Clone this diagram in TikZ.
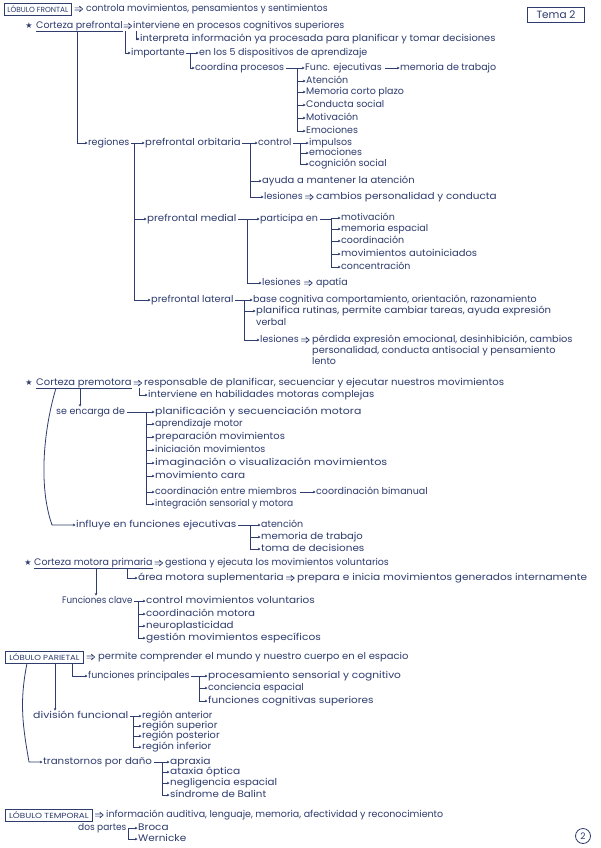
\documentclass[tikz,border=0pt]{standalone}
\usepackage{fontspec}
\usepackage{graphicx}
\newfontfamily\hw{Poppins}
\newfontfamily\symf{DejaVu Sans}
\usetikzlibrary{arrows.meta,calc}
\definecolor{ink}{HTML}{2E3C6E}
\newbox\hwbox
\newcommand\mybrk[3]{\draw[ln] ([xshift=1.5pt]#1.east) -- (#1.east -| #2) -- (#3.west -| #2);}
\begin{document}
\begin{tikzpicture}[x=1pt,y=-1pt,
 txt/.style={anchor=west,inner sep=0pt,text=ink,font=\hw\fontsize{9.5}{11}\selectfont,text height=7pt,text depth=2.3pt},
 sx/.style={execute at begin node={\setbox\hwbox=\hbox\bgroup},execute at end node={\egroup\scalebox{#1}[1]{\box\hwbox}}},
 ln/.style={draw=ink,line width=0.8pt},
 arr/.style={ln,-{Stealth[length=2.6pt,width=2.6pt]},shorten >=0.5pt},
 imp/.style={draw=ink,line width=0.7pt,line cap=round,line join=round,to path={
   let \p1=(\tikztostart.east), \p2=(\tikztotarget.west), \n1={(\x1+\x2)/2} in
   (\n1-4pt,\y2-1.1pt) -- (\n1+2pt,\y2-1.1pt)
   (\n1-4pt,\y2+1.1pt) -- (\n1+2pt,\y2+1.1pt)
   (\n1+0.5pt,\y2+2.8pt) -- (\n1+3.8pt,\y2) -- (\n1+0.5pt,\y2-2.8pt)}},
 lbox/.style={draw=ink,line width=0.8pt,anchor=west,inner xsep=0pt,inner ysep=0pt,minimum height=12pt,text=ink,font=\hw\fontsize{7.4}{8}\selectfont},
 star/.style={inner sep=0pt,text=ink,font=\symf\fontsize{8}{8}\selectfont}
]
\useasboundingbox (0,0) rectangle (600,848);
\fill[white] (0,0) rectangle (600,848);
% bracket coordinates
\coordinate (bA) at (190,0); \coordinate (bB) at (297,0); \coordinate (bC) at (134,0);
\coordinate (bD) at (250,0); \coordinate (bE) at (300,0); \coordinate (bF) at (247,0);
\coordinate (bG) at (331,0); \coordinate (bH) at (244,0); \coordinate (bI) at (146,0);
\coordinate (bJ) at (250,0); \coordinate (bK) at (138,0); \coordinate (bL) at (199,0);
\coordinate (bM) at (133,0); \coordinate (bN) at (162,0); \coordinate (bO) at (128,0);
\coordinate (c52) at (52,0); \coordinate (c29) at (29,0);

% ===== FRONTAL =====
\node[lbox,minimum width=67pt] (lf) at (4,9) {LÓBULO FRONTAL};
\node[txt,sx=0.97] (ctrl) at (86,9) {controla movimientos, pensamientos y sentimientos};
\draw[imp] (lf) to (ctrl);
\node[draw=ink,line width=0.8pt,inner sep=0pt,minimum width=57pt,minimum height=15pt,text=ink,font=\hw\fontsize{10.5}{12}\selectfont] (tema) at (556,15) {Tema 2};

\node[star] (s1) at (29,26) {★};
\node[txt] (cp) at (36,26) {Corteza prefrontal};
\draw[ln] ([yshift=-0.3pt]cp.south west) -- ([yshift=-0.3pt]cp.south east);
\node[txt] (iv) at (133,26) {interviene en procesos cognitivos superiores};
\draw[imp] (cp) to (iv);
\node[txt,sx=1.04] (interp) at (140,39) {interpreta información ya procesada para planificar y tomar decisiones};
\node[txt] (impo) at (131,53) {importante};
\draw[arr] ([xshift=-8pt]iv.south west) |- (impo.west);
\draw[arr] ([xshift=3pt]iv.south west) |- (interp.west);
\node[txt] (en5) at (199,53) {en los 5 dispositivos de aprendizaje};
\node[txt] (coord) at (195,68) {coordina procesos};
\mybrk{impo}{bA}{coord}
\foreach \c in {en5,coord} \draw[arr] (\c.west -| bA) -- (\c.west);
\node[txt] (fe) at (305,68) {Func. ejecutivas};
\node[txt] (mt) at (400,68) {memoria de trabajo};
\draw[arr] ([xshift=3pt]fe.east) -- (mt.west);
\node[txt] (ate) at (306,81) {Atención};
\node[txt] (mcp) at (306,92) {Memoria corto plazo};
\node[txt] (cs) at (306,105) {Conducta social};
\node[txt] (mot) at (306,118) {Motivación};
\node[txt] (emo) at (306,131) {Emociones};
\mybrk{coord}{bB}{emo}
\foreach \c in {fe,ate,mcp,cs,mot,emo} \draw[arr] (\c.west -| bB) -- (\c.west);

\node[txt] (reg) at (88,143) {regiones};
\draw[arr] ([xshift=41pt,yshift=-0.3pt]cp.south west) |- (reg.west);
\node[txt,sx=1.06] (po) at (145,143) {prefrontal orbitaria};
\node[txt,sx=1.08] (pm) at (147,219) {prefrontal medial};
\node[txt,sx=1.03] (pl) at (151,300) {prefrontal lateral};
\mybrk{reg}{bC}{pl}
\foreach \c in {po,pm,pl} \draw[arr] (\c.west -| bC) -- (\c.west);

\node[txt] (ctl) at (258,143) {control};
\node[txt,sx=1.05] (ayu) at (262,181) {ayuda a mantener la atención};
\node[txt] (les1) at (264,197) {lesiones};
\mybrk{po}{bD}{les1}
\foreach \c in {ctl,ayu,les1} \draw[arr] (\c.west -| bD) -- (\c.west);
\node[txt] (imu) at (309,143) {impulsos};
\node[txt] (em2) at (309,153) {emociones};
\node[txt] (cs2) at (309,164) {cognición social};
\mybrk{ctl}{bE}{cs2}
\foreach \c in {imu,em2,cs2} \draw[arr] (\c.west -| bE) -- (\c.west);
\node[txt,sx=1.1] (cam) at (316,197) {cambios personalidad y conducta};
\draw[imp] (les1) to (cam);

\node[txt] (pa) at (260,219) {participa en};
\node[txt] (les2) at (262,283) {lesiones};
\mybrk{pm}{bF}{les2}
\foreach \c in {pa,les2} \draw[arr] (\c.west -| bF) -- (\c.west);
\node[txt] (mo2) at (341,218) {motivación};
\node[txt] (me2) at (341,229) {memoria espacial};
\node[txt] (co2) at (341,241) {coordinación};
\node[txt,sx=1.05] (ma) at (341,254) {movimientos autoiniciados};
\node[txt] (con) at (341,267) {concentración};
\mybrk{pa}{bG}{con}
\foreach \c in {mo2,me2,co2,ma,con} \draw[arr] (\c.west -| bG) -- (\c.west);
\node[txt] (apa) at (316,283) {apatía};
\draw[imp] (les2) to (apa);

\node[txt] (bc) at (253,300) {base cognitiva comportamiento, orientación, razonamiento};
\node[txt,sx=1.06] (pr) at (256,311) {planifica rutinas, permite cambiar tareas, ayuda expresión};
\node[txt] (pr2) at (256,323) {verbal};
\node[txt] (les3) at (260,340) {lesiones};
\mybrk{pl}{bH}{les3}
\foreach \c in {bc,pr,les3} \draw[arr] (\c.west -| bH) -- (\c.west);
\node[txt,sx=1.03] (per) at (312,340) {pérdida expresión emocional, desinhibición, cambios};
\node[txt,sx=1.03] (per2) at (312,351) {personalidad, conducta antisocial y pensamiento};
\node[txt] (per3) at (312,362) {lento};
\draw[imp] (les3) to (per);

% ===== PREMOTORA =====
\node[star] (s2) at (29,383) {★};
\node[txt,sx=1.05] (cpm) at (36,383) {Corteza premotora};
\draw[ln] ([yshift=-0.3pt]cpm.south west) -- ([yshift=-0.3pt]cpm.south east);
\node[txt,sx=1.07] (res) at (144,383) {responsable de planificar, secuenciar y ejecutar nuestros movimientos};
\draw[imp] (cpm) to (res);
\node[txt,sx=1.05] (ihm) at (148,395) {interviene en habilidades motoras complejas};
\draw[arr] ([xshift=-5pt]res.south west) |- (ihm.west);
\node[txt] (sed) at (56,412) {se encarga de};
\draw[arr] ([xshift=44pt,yshift=-0.3pt]cpm.south west) -- ([xshift=24pt]sed.north west);
\node[txt,sx=1.15] (i1) at (155,412) {planificación y secuenciación motora};
\node[txt] (i2) at (155,424) {aprendizaje motor};
\node[txt,sx=1.05] (i3) at (155,437) {preparación movimientos};
\node[txt] (i4) at (155,450) {iniciación movimientos};
\node[txt,sx=1.18] (i5) at (155,463) {imaginación o visualización movimientos};
\node[txt,sx=1.1] (i6) at (155,476) {movimiento cara};
\node[txt] (i7) at (155,492) {coordinación entre miembros};
\node[txt,sx=0.95] (i8) at (155,504) {integración sensorial y motora};
\mybrk{sed}{bI}{i8}
\foreach \c in {i1,i2,i3,i4,i5,i6,i7,i8} \draw[arr] (\c.west -| bI) -- (\c.west);
\node[txt] (cbm) at (316,492) {coordinación bimanual};
\draw[arr] ([xshift=3pt]i7.east) -- (cbm.west);
\node[txt,sx=1.1] (infl) at (76,525) {influye en funciones ejecutivas};
\draw[arr] ([xshift=20pt,yshift=-0.3pt]cpm.south west) .. controls +(-12,40) and +(-14,-40) .. (infl.west -| c52) -- (infl.west);
\node[txt] (at2) at (261,525) {atención};
\node[txt,sx=1.06] (mt2) at (261,537) {memoria de trabajo};
\node[txt,sx=1.1] (td) at (261,549) {toma de decisiones};
\mybrk{infl}{bJ}{td}
\foreach \c in {at2,mt2,td} \draw[arr] (\c.west -| bJ) -- (\c.west);

% ===== MOTORA PRIMARIA =====
\node[star] (s3) at (28,563) {★};
\node[txt] (cmp) at (34,563) {Corteza motora primaria};
\draw[ln] ([yshift=-0.3pt]cmp.south west) -- ([yshift=-0.3pt]cmp.south east);
\node[txt] (gest) at (165,563) {gestiona y ejecuta los movimientos voluntarios};
\draw[imp] (cmp) to (gest);
\node[txt,sx=1.1] (ams) at (138,578) {área motora suplementaria};
\draw[arr] ([xshift=-25pt,yshift=-0.3pt]cmp.south east) |- (ams.west);
\node[txt,sx=1.11] (pre) at (297,578) {prepara e inicia movimientos generados internamente};
\draw[imp] (ams) to (pre);
\node[txt,sx=0.92] (fc) at (62,601) {Funciones clave};
\draw[arr] ([xshift=62pt,yshift=-0.3pt]cmp.south west) -- ([xshift=34pt]fc.north west);
\node[txt,sx=1.1] (k1) at (146,601) {control movimientos voluntarios};
\node[txt,sx=1.08] (k2) at (146,614) {coordinación motora};
\node[txt,sx=1.08] (k3) at (146,626) {neuroplasticidad};
\node[txt,sx=1.12] (k4) at (146,638) {gestión movimientos específicos};
\mybrk{fc}{bK}{k4}
\foreach \c in {k1,k2,k3,k4} \draw[arr] (\c.west -| bK) -- (\c.west);

% ===== PARIETAL =====
\node[lbox,minimum width=78pt,sx=1.15] (lp) at (5,657) {LÓBULO PARIETAL};
\node[txt,sx=1.05] (perm) at (98,657) {permite comprender el mundo y nuestro cuerpo en el espacio};
\draw[imp] (lp) to (perm);
\node[txt] (fp) at (88,676) {funciones principales};
\draw[arr] ([xshift=67pt]lp.south west) |- (fp.west);
\node[txt,sx=1.12] (ps) at (208,676) {procesamiento sensorial y cognitivo};
\node[txt] (ce) at (208,688) {conciencia espacial};
\node[txt,sx=1.1] (fcs) at (208,701) {funciones cognitivas superiores};
\mybrk{fp}{bL}{fcs}
\foreach \c in {ps,ce,fcs} \draw[arr] (\c.west -| bL) -- (\c.west);
\node[txt,sx=1.15] (df) at (33,716) {división funcional};
\draw[arr] ([xshift=50pt]lp.south west) -- ([xshift=22pt]df.north west);
\node[txt] (ra) at (142,716) {región anterior};
\node[txt,sx=1.05] (rs) at (142,726) {región superior};
\node[txt,sx=1.03] (rp) at (142,736) {región posterior};
\node[txt,sx=1.05] (ri) at (142,747) {región inferior};
\mybrk{df}{bM}{ri}
\foreach \c in {ra,rs,rp,ri} \draw[arr] (\c.west -| bM) -- (\c.west);
\node[txt,sx=1.08] (tpd) at (43,762) {transtornos por daño};
\draw[arr] ([xshift=22pt]lp.south west) .. controls +(-8,40) and +(-6,-35) .. (tpd.west -| c29) -- (tpd.west);
\node[txt,sx=1.12] (ap) at (170,762) {apraxia};
\node[txt,sx=1.12] (ao) at (170,772) {ataxia óptica};
\node[txt,sx=1.08] (ne) at (170,783) {negligencia espacial};
\node[txt,sx=1.08] (sb) at (170,795) {síndrome de Balint};
\mybrk{tpd}{bN}{sb}
\foreach \c in {ap,ao,ne,sb} \draw[arr] (\c.west -| bN) -- (\c.west);

% ===== TEMPORAL =====
\node[lbox,minimum width=87pt,sx=1.2] (lt) at (5,815) {LÓBULO TEMPORAL};
\node[txt] (inf) at (106,815) {información auditiva, lenguaje, memoria, afectividad y reconocimiento};
\draw[imp] (lt) to (inf);
\node[txt,sx=0.95] (dp) at (78,828) {dos partes};
\node[txt,sx=1.1] (br) at (138,828) {Broca};
\node[txt,sx=1.1] (we) at (138,839) {Wernicke};
\mybrk{dp}{bO}{we}
\foreach \c in {br,we} \draw[arr] (\c.west -| bO) -- (\c.west);
\node[draw=ink,line width=0.8pt,circle,inner sep=0pt,minimum size=15pt,text=ink,font=\hw\fontsize{9}{10}\selectfont] (c2) at (583,836) {2};
\end{tikzpicture}
\end{document}
